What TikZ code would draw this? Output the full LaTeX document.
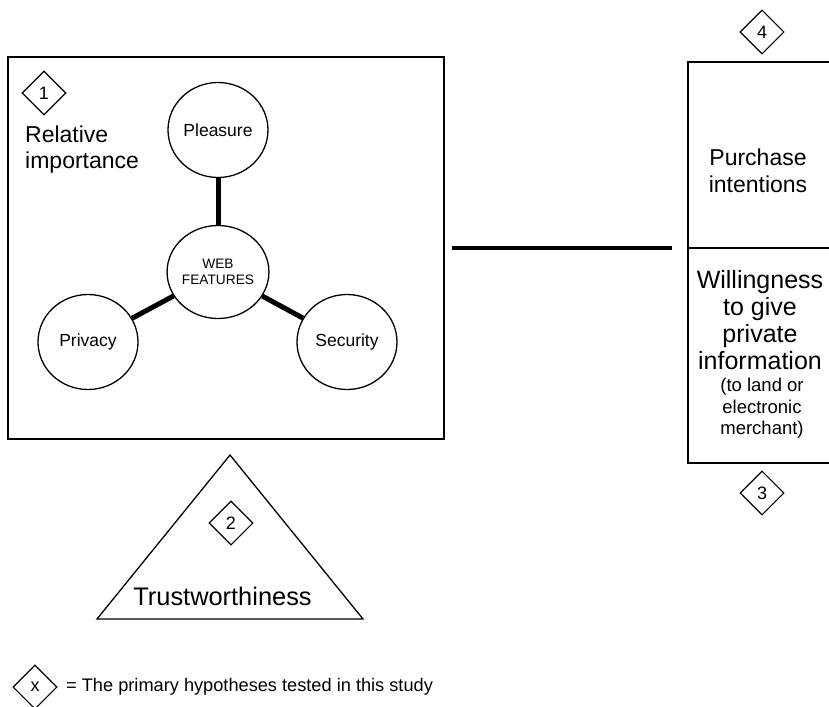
\documentclass[tikz,border=0pt]{standalone}
\usepackage{fontspec}
\setmainfont{Liberation Sans}
\usepackage{tikz}
\usetikzlibrary{shapes,positioning}
\tikzstyle{hyp} = [diamond, aspect=1, draw, line width=1.1pt, minimum width=44pt, minimum height=44pt, inner sep=0pt, font=\fontsize{18}{20}\selectfont]
\tikzstyle{spoke} = [line width=5pt]

\begin{document}
\begin{tikzpicture}[
    x=1pt, y=-1pt,
    every node/.style={inner sep=0pt},
    feat/.style={ellipse, draw, line width=1.3pt, minimum width=100pt, minimum height=95pt, font=\fontsize{17.5}{20}\selectfont},
    rbox/.style={rectangle, draw, line width=1.3pt, minimum width=150pt},
    big/.style={align=center, font=\fontsize{25}{27}\selectfont}
]
\useasboundingbox (0,0) rectangle (829,706);
\clip (0,0) rectangle (829,706);

% Web features panel
\node[rectangle, draw, line width=2.6pt, minimum width=436pt, minimum height=382pt] (panel) at (226,248) {};
\node[hyp] (h1) at (44,93) {1};
\node[anchor=base west, align=left, font=\fontsize{23}{25.5}\selectfont] (relimp) at (25,168) {Relative\\importance};

\node[feat] (pleasure) at (218,130) {Pleasure};
\node[feat, minimum height=93pt, align=center, font=\fontsize{13.7}{16.7}\selectfont] (web) at (218,272) {WEB\\FEATURES};
\node[feat] (privacy) at (88,342) {Privacy};
\node[feat] (security) at (347,342) {Security};

\draw[spoke] (web) -- (pleasure);
\draw[spoke] (web) -- (privacy);
\draw[spoke] (web) -- (security);

% Trustworthiness (bottom)
\coordinate (apex) at (230,455);
\coordinate (baseR) at (363,619);
\coordinate (baseL) at (97,619);
\draw[line width=1.3pt] (apex) -- (baseR) -- (baseL) -- cycle;
\node[hyp] (h2) at (231,523) {2};
\node[anchor=base, font=\fontsize{25.4}{28}\selectfont] (trust) at (222.5,605) {Trustworthiness};

% Outcomes (right)
\node[rbox, minimum height=186pt] (purchase) at (763,155) {};
\node[rbox, minimum height=215pt] (willing) at (763,355.5) {};
\node[big, font=\fontsize{23}{27}\selectfont] (purtxt) at (758,171) {Purchase\\intentions};
\node[big] (willtxt) at (760,320.5) {Willingness\\to give\\private\\information};
\node[align=center, font=\fontsize{18.5}{21.5}\selectfont] (willsub) at (762,408.5) {(to land or\\electronic\\merchant)};
\node[hyp] (h4) at (762,32) {4};
\node[hyp] (h3) at (762,493) {3};

\draw[line width=3.5pt, shorten <=7pt, shorten >=15pt] (panel.east) -- (panel.east -| willing.north west);

% Legend
\node[hyp] (hx) at (35,687) {x};
\node[anchor=base west, font=\fontsize{18.2}{20}\selectfont] (legend) at (66,691) {= The primary hypotheses tested in this study};

\end{tikzpicture}
\end{document}
